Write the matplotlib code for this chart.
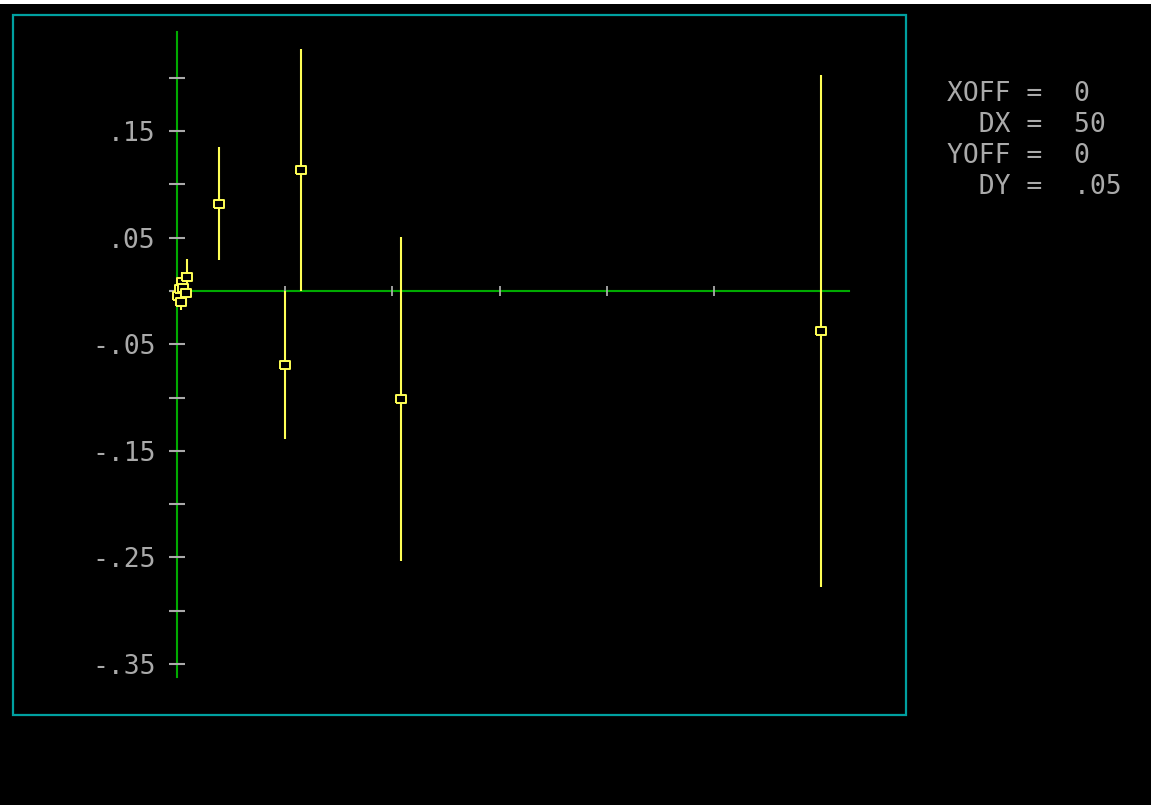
import matplotlib.pyplot as plt
from matplotlib.patches import Rectangle

# measured points: x, y and the half-width of each error bar
x_vals = [0.5, 1.5, 2.0, 2.5, 3.0, 4.0, 4.5, 19.5, 50.0, 57.7, 104.2, 299.5]
y_vals = [-0.005, 0.002, -0.010, 0.008, 0.003, -0.002, 0.013,
          0.082, -0.0695, 0.1136, -0.1014, -0.0376]
y_err = [0.004, 0.006, 0.008, 0.010, 0.012, 0.010, 0.017,
         0.053, 0.0695, 0.1136, 0.152, 0.240]

y_ticks = [0.20, 0.15, 0.10, 0.05, 0.0, -0.05, -0.10, -0.15, -0.20, -0.25, -0.30, -0.35]
y_labels = ["", ".15", "", ".05", "", "-.05", "", "-.15", "", "-.25", "", "-.35"]
x_ticks = [50, 100, 150, 200, 250]

info_lines = ["XOFF =  0", "  DX =  50", "YOFF =  0", "  DY =  .05"]

W, H = 1151, 805
GREEN = "#00aa00"
CYAN = "#00a0a0"
YELLOW = "#ffff55"
GREY = "#aaaaaa"
MONO = "DejaVu Sans Mono"

# small flat box used as the point marker
box = [(-1, -0.75), (1, -0.75), (1, 0.75), (-1, 0.75), (-1, -0.75)]

fig = plt.figure(figsize=(W / 100, H / 100), dpi=100, facecolor="black")

# white strip along the top edge of the screen capture
fig.patches.append(Rectangle((0, 1 - 4 / H), 1, 4 / H, transform=fig.transFigure,
                             facecolor="white", edgecolor="none"))

# screen frame
fig.patches.append(Rectangle((13 / W, 1 - 715 / H), (906 - 13) / W, (715 - 15) / H,
                             transform=fig.transFigure, fill=False,
                             edgecolor=CYAN, linewidth=1.6))

ax = fig.add_axes([170 / W, 1 - 677 / H, (849 - 170) / W, (677 - 32) / H])
ax.set_facecolor("black")
ax.set_xlim(-3.26, 312.56)
ax.set_ylim(-0.3623, 0.2431)

for side in ["top", "right"]:
    ax.spines[side].set_visible(False)
for side in ["left", "bottom"]:
    ax.spines[side].set_position(("data", 0))
    ax.spines[side].set_color(GREEN)
    ax.spines[side].set_linewidth(1.5)
    ax.spines[side].set_zorder(1)

ax.set_yticks(y_ticks)
ax.set_yticklabels(y_labels, fontfamily=MONO, fontsize=19, color=GREY)
ax.set_xticks(x_ticks)
ax.set_xticklabels([])
ax.tick_params(axis="y", direction="inout", length=11, width=1.5, color=GREY, pad=10)
ax.tick_params(axis="x", direction="inout", length=7, width=1.3, color=GREY)

ax.errorbar(x_vals, y_vals, yerr=y_err, fmt="none", ecolor=YELLOW,
            elinewidth=1.5, capsize=0, zorder=3, clip_on=False)
ax.plot(x_vals, y_vals, linestyle="none", marker=box, markersize=7,
        markerfacecolor="black", markeredgecolor=YELLOW, markeredgewidth=1.4,
        zorder=4, clip_on=False)

for i, line in enumerate(info_lines):
    fig.text(947 / W, 1 - (94 + 31 * i) / H, line, fontfamily=MONO, fontsize=19,
             color=GREY, ha="left", va="center")

fig.savefig("out.png", dpi=100, facecolor="black")
